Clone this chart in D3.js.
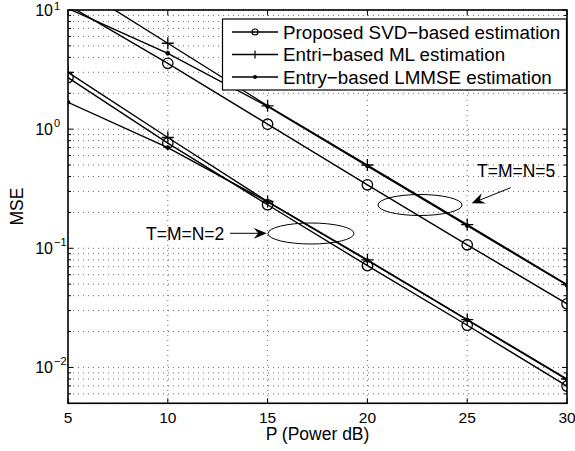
<!DOCTYPE html>
<html>
<head>
<meta charset="utf-8">
<script src="https://cdn.jsdelivr.net/npm/d3@7"></script>
<style>
  body { margin: 0; background: #fff; }
  svg text { font-family: "Liberation Sans", Arial, Helvetica, sans-serif; fill: #000; }
</style>
</head>
<body>
<svg id="chart" width="575" height="451"></svg>
<script>
// P (dB) values on the x axis
const powerDb = [5, 10, 15, 20, 25, 30];

// T=M=N=5 curves
const svd5   = [11.0, 3.57, 1.10, 0.341, 0.107, 0.0342];
const ml5    = [17.6, 5.26, 1.57, 0.50, 0.158, 0.0496];
const lmmse5 = [10.3, 4.33, 1.55, 0.49, 0.155, 0.049];

// T=M=N=2 curves
const svd2   = [2.71, 0.764, 0.232, 0.0715, 0.0226, 0.00697];
const ml2    = [3.0, 0.851, 0.247, 0.080, 0.0252, 0.0080];
const lmmse2 = [1.68, 0.70, 0.245, 0.079, 0.025, 0.0079];

const xTicks = [5, 10, 15, 20, 25, 30];
const yMajor = [0.01, 0.1, 1, 10];
const yExp = ["−2", "−1", "0", "1"];

const legendLabels = ["Proposed SVD−based estimation", "Entri−based ML estimation", "Entry−based LMMSE estimation"];
const markers = ["circle", "plus", "dot"];

const svg = d3.select("#chart");
const pLeft = 68, pRight = 567, pTop = 10, pBottom = 403.3;

const x = d3.scaleLinear().domain([5, 30]).range([pLeft, pRight]);
const y = d3.scaleLog().domain([0.005, 10]).range([pBottom, pTop]);

// minor values for log grid
let yMinor = [];
for (let e = -3; e <= 1; e++) {
  for (let k = 1; k <= 9; k++) {
    const v = k * Math.pow(10, e);
    if (v >= 0.005 && v <= 10) yMinor.push(v);
  }
}

svg.append("clipPath").attr("id", "plotclip")
  .append("rect").attr("x", pLeft).attr("y", pTop)
  .attr("width", pRight - pLeft).attr("height", pBottom - pTop);

// grid
const grid = svg.append("g").attr("stroke", "#444").attr("stroke-width", 0.8)
  .attr("stroke-dasharray", "1,4");
grid.selectAll(".gx").data(xTicks.slice(1, -1)).enter().append("line")
  .attr("x1", d => x(d)).attr("x2", d => x(d))
  .attr("y1", pTop).attr("y2", pBottom);
grid.selectAll(".gy").data(yMinor).enter().append("line")
  .attr("x1", pLeft).attr("x2", pRight)
  .attr("y1", d => y(d)).attr("y2", d => y(d));

// data lines
const series = [
  { v: svd5, m: "circle" }, { v: ml5, m: "plus" }, { v: lmmse5, m: "dot" },
  { v: svd2, m: "circle" }, { v: ml2, m: "plus" }, { v: lmmse2, m: "dot" }
];
const lineGen = d3.line().x((d, i) => x(powerDb[i])).y(d => y(d));
const plot = svg.append("g").attr("clip-path", "url(#plotclip)");

function drawMarker(g, type, cx, cy) {
  if (type === "circle") {
    g.append("circle").attr("cx", cx).attr("cy", cy).attr("r", 5.2)
      .attr("fill", "none").attr("stroke", "#000").attr("stroke-width", 1.3);
  } else if (type === "plus") {
    g.append("path").attr("d", `M${cx - 6},${cy}H${cx + 6}M${cx},${cy - 6}V${cy + 6}`)
      .attr("stroke", "#000").attr("stroke-width", 1.3);
  } else {
    g.append("circle").attr("cx", cx).attr("cy", cy).attr("r", 2.3).attr("fill", "#000");
  }
}

series.forEach(s => {
  plot.append("path").datum(s.v).attr("d", lineGen)
    .attr("fill", "none").attr("stroke", "#000").attr("stroke-width", 1.4);
  s.v.forEach((d, i) => drawMarker(plot, s.m, x(powerDb[i]), y(d)));
});

// axes box and ticks
const ax = svg.append("g").attr("stroke", "#000");
ax.append("rect").attr("x", pLeft).attr("y", pTop).attr("width", pRight - pLeft)
  .attr("height", pBottom - pTop).attr("fill", "none").attr("stroke-width", 1.6);
xTicks.forEach(t => {
  ax.append("line").attr("x1", x(t)).attr("x2", x(t)).attr("y1", pBottom).attr("y2", pBottom - 5).attr("stroke-width", 1);
  ax.append("line").attr("x1", x(t)).attr("x2", x(t)).attr("y1", pTop).attr("y2", pTop + 5).attr("stroke-width", 1);
});
yMinor.forEach(t => {
  const major = Math.abs(Math.log10(t) - Math.round(Math.log10(t))) < 1e-9;
  const len = major ? 5 : 3;
  ax.append("line").attr("x1", pLeft).attr("x2", pLeft + len).attr("y1", y(t)).attr("y2", y(t)).attr("stroke-width", 1);
  ax.append("line").attr("x1", pRight).attr("x2", pRight - len).attr("y1", y(t)).attr("y2", y(t)).attr("stroke-width", 1);
});

// tick labels
svg.selectAll(".xl").data(xTicks).enter().append("text")
  .attr("x", d => x(d)).attr("y", 423).attr("text-anchor", "middle")
  .attr("font-size", 15.5).text(d => d);
yMajor.forEach((t, i) => {
  svg.append("text").attr("x", 53).attr("y", y(t) + 6).attr("text-anchor", "end")
    .attr("font-size", 16).text("10");
  svg.append("text").attr("x", 54).attr("y", Math.max(y(t) - 2, 9.5)).attr("font-size", 11).text(yExp[i]);
});

// axis labels
svg.append("text").attr("x", (pLeft + pRight) / 2).attr("y", 440).attr("text-anchor", "middle")
  .attr("font-size", 17.5).text("P (Power dB)");
svg.append("text").attr("transform", `translate(23,${(pTop + pBottom) / 2}) rotate(-90)`)
  .attr("text-anchor", "middle").attr("font-size", 17.5).text("MSE");

// legend
const lg = svg.append("g");
lg.append("rect").attr("x", 222.5).attr("y", 19).attr("width", 344).attr("height", 71)
  .attr("fill", "#fff").attr("stroke", "#000").attr("stroke-width", 1.2);
const rowY = [32, 54.5, 77];
legendLabels.forEach((lab, i) => {
  lg.append("line").attr("x1", 232).attr("x2", 278).attr("y1", rowY[i]).attr("y2", rowY[i])
    .attr("stroke", "#000").attr("stroke-width", 1.3);
  if (markers[i] === "circle") {
    lg.append("circle").attr("cx", 255).attr("cy", rowY[i]).attr("r", 3)
      .attr("fill", "none").attr("stroke", "#000").attr("stroke-width", 1.2);
  } else if (markers[i] === "plus") {
    lg.append("path").attr("d", `M255,${rowY[i] - 4}V${rowY[i] + 4}`).attr("stroke", "#000").attr("stroke-width", 1.2);
  } else {
    lg.append("circle").attr("cx", 255).attr("cy", rowY[i]).attr("r", 2).attr("fill", "#000");
  }
  lg.append("text").attr("x", 283).attr("y", rowY[i] + 6.5).attr("font-size", 18.8).text(lab);
});

// annotations
function arrow(x1, y1, x2, y2) {
  const a = Math.atan2(y2 - y1, x2 - x1), L = 13, W = 5.5, N = 8.5;
  const ca = Math.cos(a), sa = Math.sin(a);
  const bx = x2 - L * ca, by = y2 - L * sa;
  const nx = x2 - N * ca, ny = y2 - N * sa;
  svg.append("line").attr("x1", x1).attr("y1", y1).attr("x2", nx).attr("y2", ny)
    .attr("stroke", "#000").attr("stroke-width", 1);
  svg.append("path")
    .attr("d", `M${x2},${y2}L${bx - W * sa},${by + W * ca}L${nx},${ny}L${bx + W * sa},${by - W * ca}Z`)
    .attr("fill", "#000");
}
svg.append("ellipse").attr("cx", 420).attr("cy", 205).attr("rx", 42).attr("ry", 10.5)
  .attr("fill", "none").attr("stroke", "#000").attr("stroke-width", 1);
svg.append("ellipse").attr("cx", 311).attr("cy", 233.5).attr("rx", 43).attr("ry", 10.5)
  .attr("fill", "none").attr("stroke", "#000").attr("stroke-width", 1);
svg.append("text").attr("x", 477).attr("y", 177).attr("font-size", 17.5).text("T=M=N=5");
svg.append("text").attr("x", 146).attr("y", 239.5).attr("font-size", 17.5).text("T=M=N=2");
arrow(510.7, 187.7, 471.7, 203.3);
arrow(230, 233.3, 266.7, 233.3);
</script>
</body>
</html>
